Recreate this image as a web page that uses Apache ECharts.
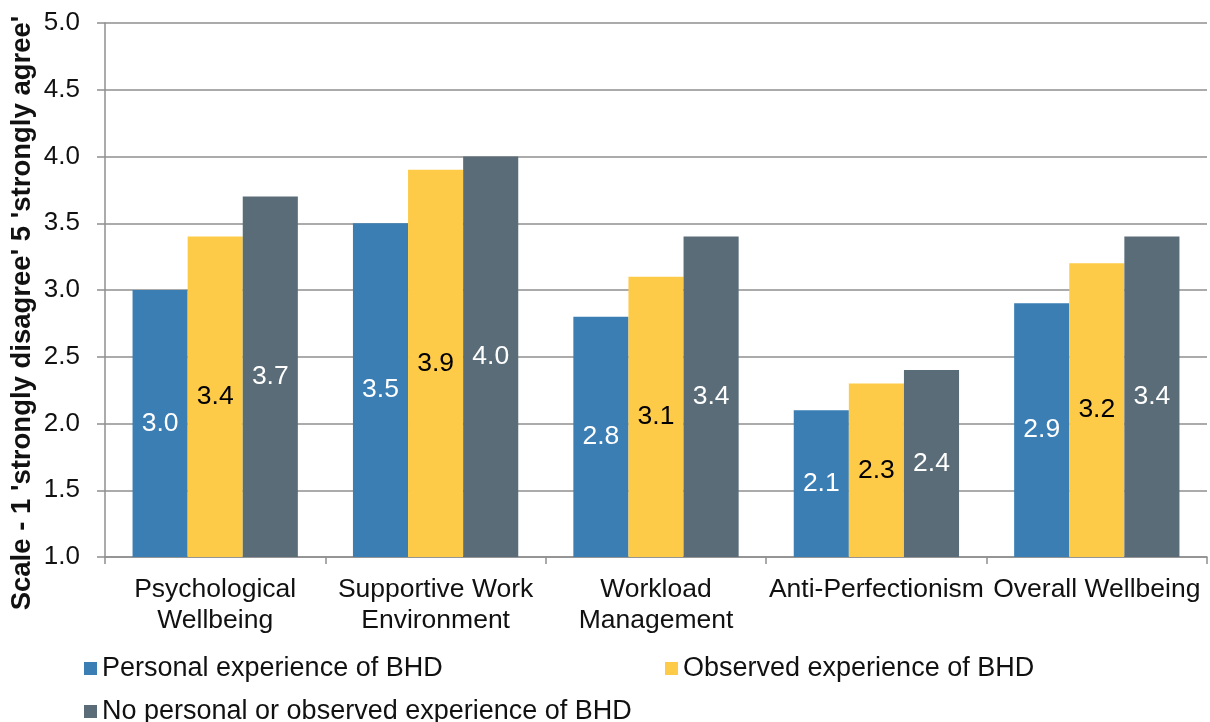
<!DOCTYPE html>
<html>
<head>
<meta charset="utf-8">
<script src="https://cdn.jsdelivr.net/npm/echarts@6/dist/echarts.min.js"></script>
<style>
  html, body { margin: 0; padding: 0; background: #fff; }
  #main { width: 1210px; height: 722px; }
</style>
</head>
<body>
<div id="main"></div>
<script>
// data
var categories = ['Psychological\nWellbeing', 'Supportive Work\nEnvironment', 'Workload\nManagement', 'Anti-Perfectionism', 'Overall Wellbeing'];
var seriesNames = ['Personal experience of BHD', 'Observed experience of BHD', 'No personal or observed experience of BHD'];
var personal = [3.0, 3.5, 2.8, 2.1, 2.9];
var observed = [3.4, 3.9, 3.1, 2.3, 3.2];
var noExperience = [3.7, 4.0, 3.4, 2.4, 3.4];
var yTitle = "Scale - 1 'strongly disagree' 5 'strongly agree'";

var myChart = echarts.init(document.getElementById('main'));

var font = 'Liberation Sans, Arial, sans-serif';
var gridColor = '#8f8f8f';

function barSeries(name, data, color, labelColor) {
    return {
        name: name,
        type: 'bar',
        data: data,
        barGap: '0%',
        barCategoryGap: '25%',
        itemStyle: { color: color },
        label: {
            show: true,
            position: 'inside',
            color: labelColor,
            fontFamily: font,
            fontSize: 26.5,
            formatter: function (p) { return p.value.toFixed(1); }
        }
    };
}

function legendAt(name, left, top) {
    return {
        data: [name],
        left: left,
        top: top,
        selectedMode: false,
        icon: 'rect',
        itemWidth: 13,
        itemHeight: 13,
        itemGap: 0,
        padding: 0,
        textStyle: { fontFamily: font, fontSize: 27, color: '#111' }
    };
}

var option = {
    animation: false,
    color: ['#3a7eb4', '#fdcb47', '#5a6c78'],
    grid: { left: 105, right: 3, top: 23, bottom: 165 },
    legend: [
        legendAt(seriesNames[0], 84, 655),
        legendAt(seriesNames[1], 665, 655),
        legendAt(seriesNames[2], 84, 698)
    ],
    // y axis title, placed like the original (a bit below the plot middle)
    graphic: [{
        type: 'text',
        x: 22,
        y: 313,
        rotation: Math.PI / 2,
        style: {
            text: yTitle,
            fontFamily: font,
            fontSize: 27.5,
            fontWeight: 'bold',
            fill: '#111',
            align: 'center',
            verticalAlign: 'middle'
        }
    }],
    xAxis: {
        type: 'category',
        data: categories,
        axisLine: { lineStyle: { color: gridColor, width: 1.5 } },
        axisTick: { show: true, length: 7, lineStyle: { color: gridColor, width: 1.5 } },
        axisLabel: {
            interval: 0,
            margin: 17,
            color: '#111',
            fontFamily: font,
            fontSize: 26.5,
            lineHeight: 31
        }
    },
    yAxis: {
        type: 'value',
        min: 1,
        max: 5,
        interval: 0.5,
        axisLine: { show: true, lineStyle: { color: gridColor, width: 1.5 } },
        axisTick: { show: true, length: 8, lineStyle: { color: gridColor, width: 1.5 } },
        splitLine: { lineStyle: { color: gridColor, width: 1.5 } },
        axisLabel: {
            margin: 25,
            color: '#111',
            fontFamily: font,
            fontSize: 26,
            formatter: function (v) { return v.toFixed(1); }
        }
    },
    series: [
        barSeries(seriesNames[0], personal, '#3a7eb4', '#fff'),
        barSeries(seriesNames[1], observed, '#fdcb47', '#000'),
        barSeries(seriesNames[2], noExperience, '#5a6c78', '#fff')
    ]
};

myChart.setOption(option);
</script>
</body>
</html>
